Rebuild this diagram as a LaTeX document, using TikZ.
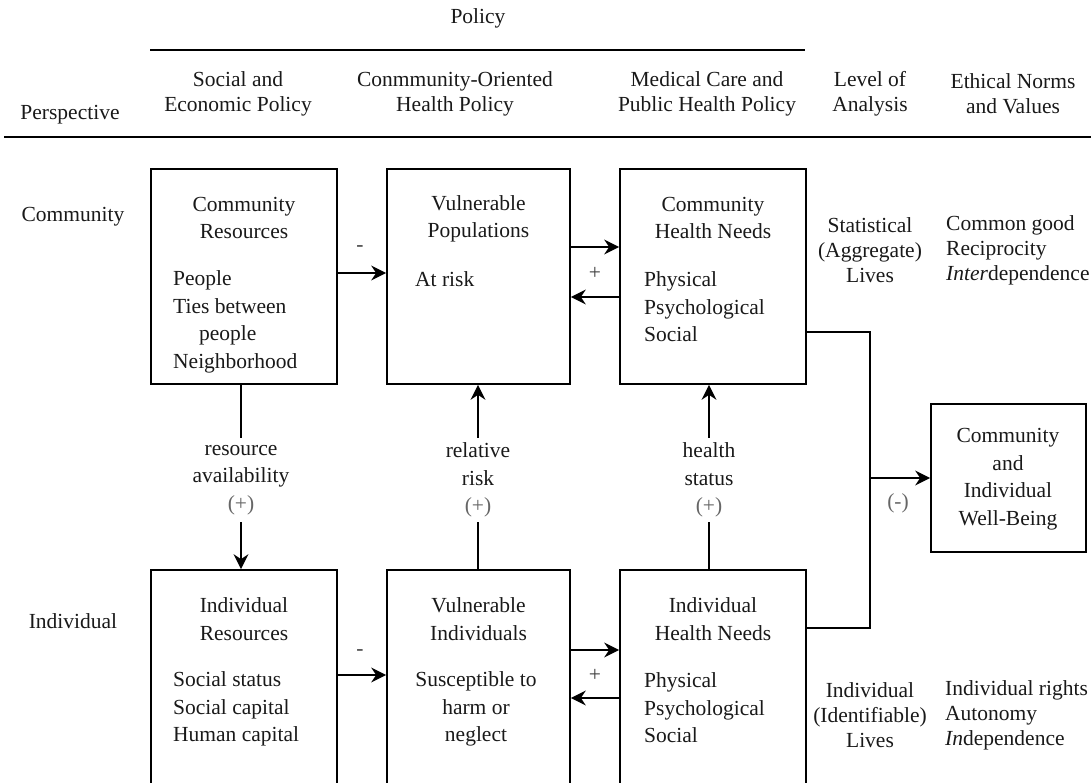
\documentclass[tikz,border=0pt]{standalone}
\usepackage{fontspec}
\setmainfont{Liberation Serif}
\usetikzlibrary{arrows.meta,calc}
\begin{document}
\begin{tikzpicture}[x=1pt,y=-1pt,
  txt/.style={font=\fontsize{21.5}{27.5}\selectfont, text=black!90, inner sep=0pt},
  hdr/.style={txt, font=\fontsize{21.5}{25}\selectfont, align=center},
  col/.style={txt, font=\fontsize{21.5}{25}\selectfont},
  boxw/.style={draw, line width=1.7pt, inner sep=0pt, minimum height=215pt},
  rule/.style={line width=2pt},
  conn/.style={line width=1.5pt},
  arr/.style={conn, -{Stealth[length=15pt,width=15pt,inset=5pt]}},
  elab/.style={txt, align=center, minimum height=84pt},
  sign/.style={txt, text=black!75}
]
\useasboundingbox (0,0) rectangle (1091,783);
\clip (0,0) rectangle (1091,783);

% header
\node[hdr] (policy) at (478,18) {Policy};
\coordinate (pl1) at (150,50); \coordinate (pl2) at (805,50);
\draw[rule] (pl1) -- (pl2);
\node[hdr] (h1) at (238,94) {Social and\\Economic Policy};
\node[hdr] (h2) at (455,94) {Conmmunity-Oriented\\Health Policy};
\node[hdr] (h3) at (707,94) {Medical Care and\\Public Health Policy};
\node[hdr] (h4) at (870,94) {Level of\\Analysis};
\node[hdr] (h5) at (1013,94) {Ethical Norms\\and Values};
\node[hdr] (persp) at (70,115) {Perspective};
\coordinate (hl1) at (4,137); \coordinate (hl2) at (1091,137);
\draw[rule] (hl1) -- (hl2);

% row labels
\node[txt] (rowc) at (73,217) {Community};
\node[txt] (rowi) at (73,621) {Individual};

% boxes
\node[boxw, minimum width=186pt] (CR)  at (244,276.5) {};
\node[boxw, minimum width=183pt] (VP)  at (478.5,276.5) {};
\node[boxw, minimum width=186pt] (CHN) at (713,276.5) {};
\node[boxw, minimum width=186pt] (IR)  at (244,677.5) {};
\node[boxw, minimum width=183pt] (VI)  at (478.5,677.5) {};
\node[boxw, minimum width=186pt] (IHN) at (713,677.5) {};
\node[draw, line width=1.7pt, inner sep=0pt, minimum width=155pt, minimum height=148pt] (WB) at (1008.5,478) {};

% box texts
\node[txt, align=center] (CRt) at (244,218) {Community\\Resources};
\node[txt, align=left, anchor=west] (CRl) at (173,322) {People\\Ties between\\\hspace*{26pt}people\\Neighborhood};
\node[txt, align=center] (VPt) at (478.5,219) {Vulnerable\\Populations};
\node[txt, anchor=west] (VPl) at (415,279) {At risk};
\node[txt, align=center] (CHNt) at (713,218) {Community\\Health Needs};
\node[txt, align=left, anchor=west] (CHNl) at (644,307) {Physical\\Psychological\\Social};

\node[txt, align=center] (IRt) at (244,619) {Individual\\Resources};
\node[txt, align=left, anchor=west] (IRl) at (173,709) {Social status\\Social capital\\Human capital};
\node[txt, align=center] (VIt) at (478.5,619) {Vulnerable\\Individuals};
\node[txt, align=center] (VIl) at (476,709) {Susceptible to\\harm or\\neglect};
\node[txt, align=center] (IHNt) at (713,619) {Individual\\Health Needs};
\node[txt, align=left, anchor=west] (IHNl) at (644,708) {Physical\\Psychological\\Social};

\node[txt, align=center] (WBt) at (1008,479) {Community\\and\\Individual\\Well-Being};

% level of analysis and ethics
\node[col, align=center] (lac) at (870,250) {Statistical\\(Aggregate)\\Lives};
\node[col, align=left, anchor=west] (ethc) at (946,250) {Common good\\Reciprocity\\\textit{Inter}dependence};
\node[col, align=center] (lai) at (870,715) {Individual\\(Identifiable)\\Lives};
\node[col, align=left, anchor=west] (ethi) at (945,715) {Individual rights\\Autonomy\\\textit{In}dependence};

% horizontal connectors
\draw[arr] ([yshift=3.5]CR.east) -- ([yshift=3.5]VP.west);
\node[sign] (m1) at (360,249) {-};
\draw[arr] ([yshift=29.5]VP.east) -- ([yshift=29.5]CHN.west);
\draw[arr] ([yshift=-20.5]CHN.west) -- ([yshift=-20.5]VP.east);
\node[sign] (p1) at (595,273) {+};

\draw[arr] ([yshift=2.5]IR.east) -- ([yshift=2.5]VI.west);
\node[sign] (m2) at (360,653) {-};
\draw[arr] ([yshift=27.5]VI.east) -- ([yshift=27.5]IHN.west);
\draw[arr] ([yshift=-20.5]IHN.west) -- ([yshift=-20.5]VI.east);
\node[sign] (p2) at (595,675) {+};

% vertical connectors
\node[elab] (ra) at (241,480) {resource\\availability\\{\color{black!60}(+)}};
\draw[conn] (CR.south -| ra) -- (ra.north);
\draw[arr] (ra.south) -- (IR.north -| ra);

\node[elab] (rr) at (478,480) {relative\\risk\\{\color{black!60}(+)}};
\draw[conn] (VI.north -| rr) -- (rr.south);
\draw[arr] (rr.north) -- (VP.south -| rr);

\node[elab] (hs) at (709,480) {health\\status\\{\color{black!60}(+)}};
\draw[conn] (IHN.north -| hs) -- (hs.south);
\draw[arr] (hs.north) -- (CHN.south -| hs);

% to well-being
\coordinate (J) at (870,478);
\draw[conn] ([yshift=-55.5]CHN.east) -| (J);
\draw[conn] ([yshift=49.5]IHN.east) -| (J);
\draw[arr] (J) -- (WB.west);
\node[sign, text=black!60] (mw) at (898,503) {(-)};
\end{tikzpicture}
\end{document}
